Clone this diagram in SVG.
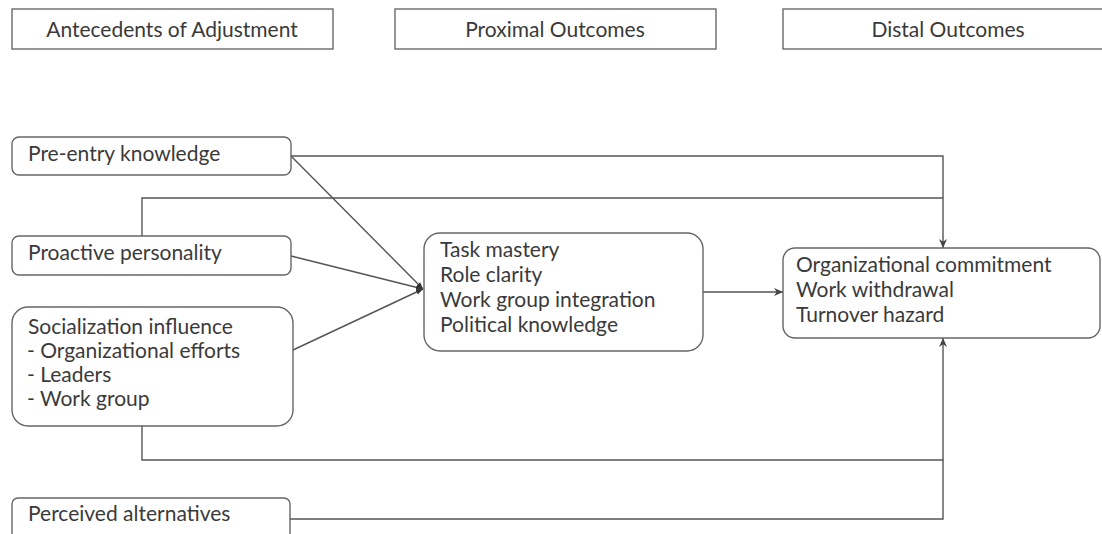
<svg xmlns="http://www.w3.org/2000/svg" width="1102" height="534" viewBox="0 0 1102 534">
<defs>
<style>
.hdr{fill:#fff;stroke:#6a6a6a;stroke-width:1.4}
.node{fill:#fff;stroke:#666;stroke-width:1.4}
.t{font-family:Lato,"Liberation Sans",sans-serif;font-size:21px;fill:#3a3a3a}
.c{text-anchor:middle}
.ln{fill:none;stroke:#555;stroke-width:1.4}
</style>
<marker id="ah" viewBox="0 0 10 10" refX="10" refY="5" markerWidth="7" markerHeight="7" markerUnits="userSpaceOnUse" orient="auto">
<path d="M0,1 L10,5 L0,9 Z" fill="#333"/>
</marker>
<marker id="ah2" viewBox="0 0 10 10" refX="10" refY="5" markerWidth="9" markerHeight="9" markerUnits="userSpaceOnUse" orient="auto">
<path d="M0,0.5 L10,5 L0,9.5 L3,5 Z" fill="#444"/>
</marker>
</defs>
<rect width="1102" height="534" fill="#fff"/>

<g id="hdr-antecedents">
<rect class="hdr" x="12" y="9" width="321" height="40"/>
<text class="t c" x="172" y="37">Antecedents of Adjustment</text>
</g>
<g id="hdr-proximal">
<rect class="hdr" x="395" y="9" width="321" height="40"/>
<text class="t c" x="555" y="37">Proximal Outcomes</text>
</g>
<g id="hdr-distal">
<rect class="hdr" x="783" y="9" width="330" height="40"/>
<text class="t c" x="948" y="37">Distal Outcomes</text>
</g>

<g id="connectors">
<polyline class="ln" points="291,156 943,156 943,248" marker-end="url(#ah2)"/>
<polyline class="ln" points="142,236 142,198 943,198"/>
<polyline class="ln" points="142,426 142,460 943,460 943,338" marker-end="url(#ah2)"/>
<polyline class="ln" points="290,519 943,519 943,460"/>
<line class="ln" x1="291" y1="156" x2="423" y2="289" marker-end="url(#ah)"/>
<line class="ln" x1="291" y1="256" x2="423" y2="289" marker-end="url(#ah)"/>
<line class="ln" x1="293" y1="350" x2="423" y2="289" marker-end="url(#ah)"/>
<line class="ln" x1="703" y1="292" x2="783" y2="292" marker-end="url(#ah2)"/>
</g>

<g id="pre-entry">
<rect class="node" x="12" y="137" width="279" height="38" rx="7"/>
<text class="t" x="28" y="161">Pre-entry knowledge</text>
</g>
<g id="proactive">
<rect class="node" x="12" y="236" width="279" height="39" rx="7"/>
<text class="t" x="28" y="260">Proactive personality</text>
</g>
<g id="socialization">
<rect class="node" x="12" y="307" width="281" height="119" rx="16"/>
<text class="t" x="28" y="334">Socialization influence</text>
<text class="t" x="27" y="358">- Organizational efforts</text>
<text class="t" x="27" y="382">- Leaders</text>
<text class="t" x="27" y="406">- Work group</text>
</g>
<g id="perceived">
<rect class="node" x="12" y="498" width="278" height="50" rx="6"/>
<text class="t" x="28" y="521">Perceived alternatives</text>
</g>
<g id="proximal">
<rect class="node" x="424" y="233" width="279" height="118" rx="16"/>
<text class="t" x="440" y="257">Task mastery</text>
<text class="t" x="440" y="282">Role clarity</text>
<text class="t" x="440" y="307">Work group integration</text>
<text class="t" x="440" y="332">Political knowledge</text>
</g>
<g id="distal">
<rect class="node" x="783" y="248" width="317" height="90" rx="12"/>
<text class="t" x="796" y="272">Organizational commitment</text>
<text class="t" x="796" y="297">Work withdrawal</text>
<text class="t" x="796" y="322">Turnover hazard</text>
</g>
</svg>
